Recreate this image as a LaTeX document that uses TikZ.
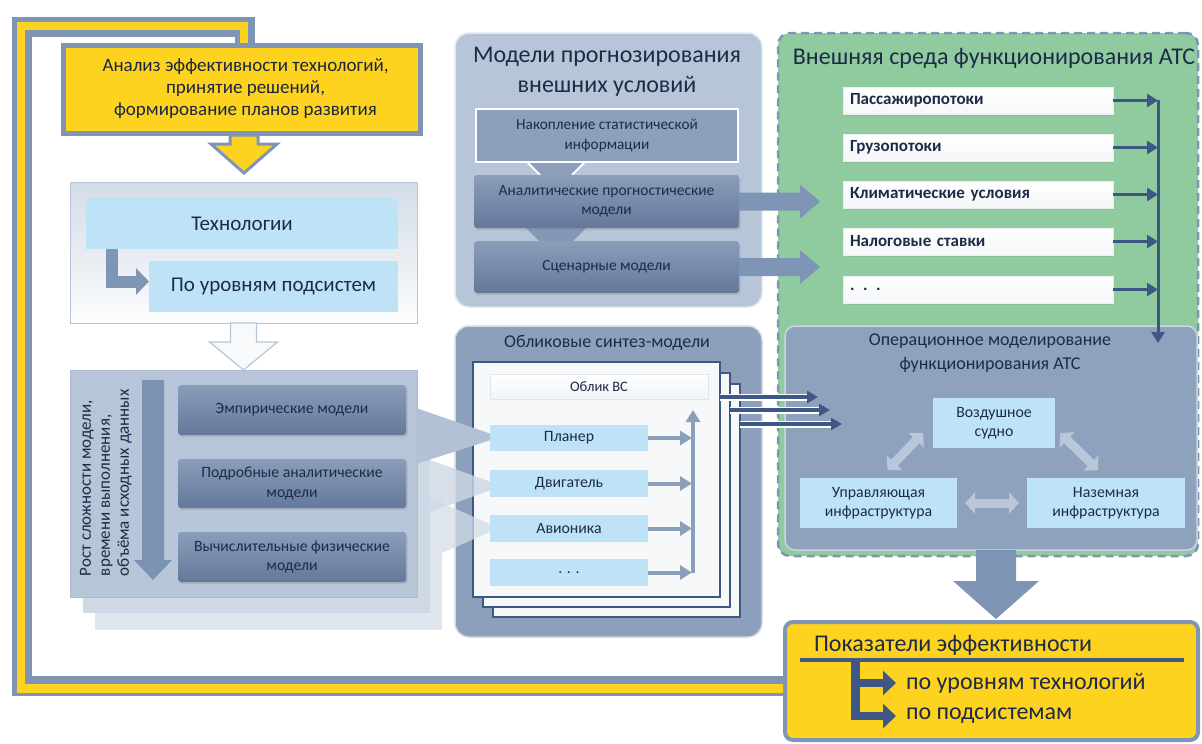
\documentclass[tikz,border=0pt]{standalone}
\usepackage{fontspec}
\setmainfont{Carlito}
\newfontfamily\listfam[WordSpace=0.7]{Carlito}
\usetikzlibrary{arrows.meta,calc,shadows}

\definecolor{ylw}{HTML}{FDD31F}
\definecolor{rim}{HTML}{7F95B5}
\definecolor{navy}{HTML}{3F5784}
\definecolor{ink}{HTML}{1E2B47}
\definecolor{sky}{HTML}{BEE3F7}
\definecolor{steelhi}{HTML}{8A9DB9}
\definecolor{steello}{HTML}{63789B}
\definecolor{haze}{HTML}{B7C5D8}
\definecolor{grn}{HTML}{8FCB9F}
\definecolor{opfill}{HTML}{8EA1BD}
\definecolor{pale}{HTML}{BAC7D9}
\definecolor{mist}{HTML}{D3DCE7}
\definecolor{oblfill}{HTML}{8DA0BB}
\definecolor{busline}{HTML}{8B9EBB}

% font of the list entries in the environment panel
\newcommand{\listfont}{\listfam\bfseries\fontsize{17}{20}\selectfont}

% block arrow pointing down: style, from, to, shaft half width, head half width, head length
\newcommand{\blockdown}[6]{\draw[#1] let \p1=(#2), \p2=(#3) in
  (\x1-#4pt,\y1) -- (\x1+#4pt,\y1) -- (\x1+#4pt,\y2+#6pt) -- (\x1+#5pt,\y2+#6pt)
  -- (\x1,\y2) -- (\x1-#5pt,\y2+#6pt) -- (\x1-#4pt,\y2+#6pt) -- cycle;}
% block arrow pointing right
\newcommand{\blockright}[6]{\draw[#1] let \p1=(#2), \p2=(#3) in
  (\x1,\y1+#4pt) -- (\x2-#6pt,\y1+#4pt) -- (\x2-#6pt,\y1+#5pt) -- (\x2,\y1)
  -- (\x2-#6pt,\y1-#5pt) -- (\x2-#6pt,\y1-#4pt) -- (\x1,\y1-#4pt) -- cycle;}

\tikzset{
  every node/.style={inner sep=0pt, outer sep=0pt, text=ink},
  wh/.style 2 args={minimum width=#1pt, minimum height=#2pt, anchor=north west},
  fs/.style 2 args={font=\fontsize{#1}{#2}\selectfont},
  skybox/.style={fill=sky, align=center, fs={15.8}{19}},
  darkbox/.style={top color=steelhi, bottom color=steello, rounded corners=3pt,
    align=center, fs={15.7}{19.5},
    drop shadow={opacity=0.25, shadow xshift=1.5pt, shadow yshift=-2pt}},
  whitebox/.style={top color=white, bottom color=white!85!haze, draw=white!70!haze,
    font=\listfont, align=left,
    text width=256pt, inner xsep=7pt,
    drop shadow={opacity=0.2, shadow xshift=1pt, shadow yshift=-1.5pt}},
  sheet/.style={fill=white!88!haze, draw=navy, line width=2.6pt},
  thin arrow/.style={line width=3.5pt, -{Triangle[length=11pt,width=13pt]}},
  dbl/.style={pale, line width=9pt, {Triangle[length=10pt,width=21pt]}-{Triangle[length=10pt,width=21pt]}},
}

\begin{document}
\begin{tikzpicture}[x=1pt, y=-1pt]
\useasboundingbox (0,0) rectangle (1202,744);

% ---------- feedback loop ----------
\coordinate (rA) at (785,686); \coordinate (rB) at (22,686);
\coordinate (rC) at (22,27);   \coordinate (rD) at (245,27);
\coordinate (yA) at (785,688.5); \coordinate (yB) at (21,688.5);
\coordinate (yC) at (21,26);   \coordinate (yD) at (244,26);
\draw[rim, line width=20pt] (rA) -- (rB) -- (rC) -- (rD) -- ++(0,20);
\draw[ylw, line width=8.5pt] (yA) -- (yB) -- (yC) -- (yD) -- ++(0,24);

% ---------- decision box ----------
\node[wh={357}{88}, fill=ylw, draw=rim, line width=5pt, align=center, fs={19}{22}, text=ink!90!black,
      drop shadow={opacity=0.25, shadow xshift=2pt, shadow yshift=-2pt}]
  (ana) at (63,45) {\hspace*{8pt}Анализ эффективности технологий,\\\hspace*{8pt}принятие решений,\\\hspace*{8pt}формирование планов развития};

% ---------- technologies ----------
\node[wh={347}{141}, top color=haze!60, bottom color=white!95!haze, draw=haze, line width=1pt]
  (techp) at (70,182) {};
\node[wh={312}{51}, skybox, fs={21}{24}] (tech) at (86,198) {Технологии};
\node[wh={249}{51}, skybox, fs={21}{24}] (subs) at (149,261) {По уровням подсистем};
\draw[rim, line width=12pt, -{Triangle[length=13pt,width=26pt]}]
  ($(tech.south west)+(26,0)$) |- ($(subs.west)+(0,-5)$);

\blockdown{fill=ylw, draw=rim, line width=3pt}{$(ana.south)+(2.5,2)$}{$(techp.north)+(0,-9)$}{14}{33}{29}

% ---------- forecasting models ----------
\node[wh={307}{274}, fill=haze, draw=white!60!haze, line width=1.5pt, rounded corners=14pt]
  (fore) at (455,33) {};
\node[align=center, fs={24}{30}] (foret) at (607,72) {Модели прогнозирования\\внешних условий};
\fill[oblfill] (527,162) -- (585,162) -- (572,176) -- (540,176) -- cycle;
\draw[white, line width=2pt] (527,162) -- (540,175) (585,162) -- (572,175);
\fill[steelhi!85!steello] (525,227) -- (587,227) -- (572,242) -- (540,242) -- cycle;
\node[wh={262}{53}, fill=oblfill, draw=white, line width=2.5pt, align=center, fs={15.3}{19.5}]
  (nak) at (476,109) {Накопление статистической\\информации};
\node[wh={265}{53}, darkbox, fs={15.5}{19.5}] (anl) at (474,175) {Аналитические прогностические\\модели};
\node[wh={265}{52}, darkbox, fs={15.5}{19.5}] (scn) at (474,241) {Сценарные модели};

% ---------- external environment ----------
\node[wh={420}{523}, fill=grn, draw=rim, line width=2.5pt, dash pattern=on 8pt off 5pt,
      rounded corners=12pt] (env) at (778,33) {};
\node[fs={24}{28}] (envt) at (994,58) {Внешняя среда функционирования АТС};
\node[wh={270}{27}, whitebox] (p1) at (843,87)  {Пассажиропотоки};
\node[wh={270}{27}, whitebox] (p2) at (843,134) {Грузопотоки};
\node[wh={270}{27}, whitebox] (p3) at (843,181) {Климатические условия};
\node[wh={270}{27}, whitebox] (p4) at (843,228) {Налоговые ставки};
\node[wh={270}{27}, whitebox] (p5) at (843,276) {. . .};

\coordinate (fa1) at (820,201);
\coordinate (fa2) at (820,267);
\blockright{fill=rim, draw=none}{anl.east}{fa1}{9}{17}{20}
\blockright{fill=rim, draw=none}{scn.east}{fa2}{9}{17}{20}

% ---------- operational modelling ----------
\node[wh={412}{224}, fill=opfill, draw=white!55!opfill, line width=1.5pt, rounded corners=10pt]
  (op) at (785,326) {};
\node[align=center, fs={18}{24}] (opt) at (990,353) {Операционное моделирование\\функционирования АТС};
\node[wh={122}{50}, skybox] (air) at (933,398) {Воздушное\\судно};
\node[wh={157}{50}, skybox] (upr) at (800,478) {Управляющая\\инфраструктура};
\node[wh={158}{50}, skybox] (naz) at (1027,478) {Наземная\\инфраструктура};
\draw[dbl] ($(upr.north)+(9,-8)$) -- ($(air.west)+(-10,10)$);
\draw[dbl] ($(air.east)+(5,10)$) -- ($(naz.north)+(-8,-8)$);
\draw[dbl] ($(upr.east)+(8,0)$) -- ($(naz.west)+(-8,0)$);

\coordinate (bustop) at (1158,100);
\coordinate (busend) at (1158,343);
\draw[navy, line width=3pt, -{Triangle[length=11pt,width=13pt]}] (bustop) -- (busend);
\foreach \n in {p1,p2,p3,p4,p5}
  \draw[navy, thin arrow] (\n.east) -- (\n.east -| bustop);

% ---------- synthesis models ----------
\node[wh={307}{311}, fill=oblfill, draw=white!60!oblfill, line width=1.5pt, rounded corners=14pt]
  (obl) at (455,326) {};
\node[fs={18}{21}] (oblt) at (607,343) {Обликовые синтез-модели};
\node[wh={247}{233}, sheet] (f3) at (493,384) {};
\node[wh={247}{234}, sheet] (f2) at (483,373) {};
\node[wh={247}{235}, sheet] (f1) at (473,362) {};

% ---------- model hierarchy (stacked sheets with pointers) ----------
\filldraw[fill=mist!70!white, draw=none] (95,500) rectangle (442,630);
\fill[mist, opacity=0.75] (442,503) -- (499,528) -- (442,553) -- cycle;
\filldraw[fill=mist!85!haze, draw=none] (83,455) rectangle (430,613);
\fill[mist!80!haze, opacity=0.8] (430,460) -- (502,486) -- (430,512) -- cycle;
\node[wh={347}{227}, fill=haze, draw=haze!80!rim, line width=1pt] (modf) at (70,370) {};
\fill[haze!92!rim] (416,408) -- (500,437) -- (416,464) -- cycle;

\blockdown{fill=white!90!haze, draw=haze, line width=1.2pt}{techp.south}{modf.north}{13}{34}{28}
\blockdown{fill=rim!95!navy, draw=none}{$(modf.north west)+(83,10)$}{$(modf.north west)+(83,210)$}{11}{19}{20}
\node[fs={17}{19}, rotate=90, anchor=north west, align=left] (grow) at (80,576)
  {Рост сложности модели,\\времени выполнения,\\объёма исходных данных};
\node[wh={228}{50}, darkbox] (emp) at (178,385) {Эмпирические модели};
\node[wh={228}{49}, darkbox] (pod) at (178,459) {Подробные аналитические\\модели};
\node[wh={228}{50}, darkbox] (vyc) at (178,532) {Вычислительные физические\\модели};

% ---------- aircraft concept ----------
\node[wh={218}{25}, top color=white, bottom color=white!80!haze, draw=white!55!haze, fs={14.5}{17}]
  (obvs) at (490,374) {Облик ВС};
\node[wh={158}{26}, skybox] (b1) at (490,425) {Планер};
\node[wh={158}{27}, skybox] (b2) at (490,470) {Двигатель};
\node[wh={158}{27}, skybox] (b3) at (490,515) {Авионика};
\node[wh={158}{27}, skybox] (b4) at (490,559) {. . .};
\coordinate (bus2) at (693,410);
\draw[busline, line width=4pt, -{Triangle[length=12pt,width=14pt]}] (bus2 |- b4.east) -- (bus2);
\foreach \n in {b1,b2,b3,b4}
  \draw[busline, line width=4pt, -{Triangle[length=12pt,width=14pt]}] (\n.east) -- ($(\n.east -| bus2)+(-1,0)$);

% sheets feeding the operational model
\coordinate (s1) at (818,397);
\coordinate (s2) at (830,410);
\coordinate (s3) at (842,424);
\foreach \f/\s in {f1/s1,f2/s2,f3/s3}{
  \draw[white, line width=7pt] (\f.east |- \s) -- ($(\s)+(-8,0)$);
  \draw[navy, line width=3.5pt, -{Triangle[length=11pt,width=12pt]}] (\f.east |- \s) -- (\s);
}

% ---------- performance indicators ----------
\node[wh={413}{118}, fill=ylw, draw=rim, line width=4pt, rounded corners=8pt] (pok) at (785,622) {};
\blockdown{fill=rim, draw=none}{$(op.south)+(5,0)$}{$(pok.north)+(5,-3)$}{20}{43}{38}
\node[anchor=west, fs={24}{28}] (pokt) at (814,645) {Показатели эффективности};
\draw[navy, line width=4pt] ($(pok.north west)+(15,38)$) -- ($(pok.north east)+(-14,38)$);
\node[anchor=west, fs={24}{28}] (k1) at (906,683) {по уровням технологий};
\node[anchor=west, fs={24}{28}] (k2) at (906,716) {по подсистемам};
\coordinate (ebar) at (855,660);
\draw[navy, line width=9pt] (ebar) -- (ebar |- k2.west);
\draw[navy, line width=8pt, -{Triangle[length=13pt,width=24pt]}] ($(ebar |- k1.west)+(-4.5,0)$) -- ($(k1.west)+(-10,0)$);
\draw[navy, line width=8pt, -{Triangle[length=13pt,width=24pt]}] ($(ebar |- k2.west)+(-4.5,0)$) -- ($(k2.west)+(-10,0)$);
\end{tikzpicture}
\end{document}
